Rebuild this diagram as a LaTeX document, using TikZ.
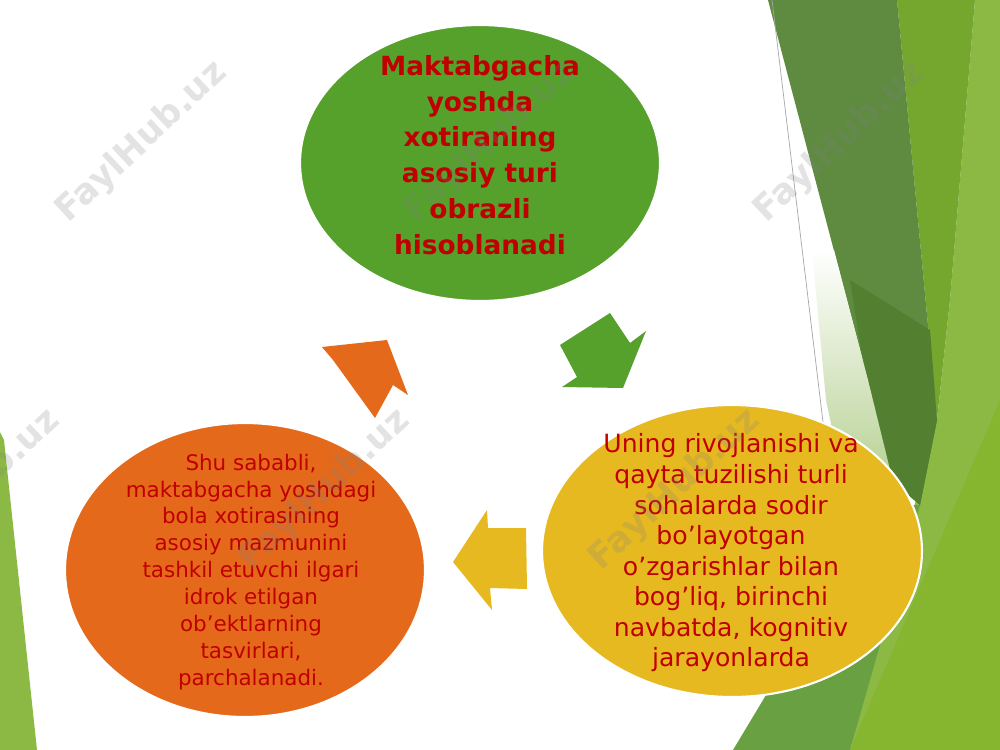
\documentclass[tikz,border=0pt]{standalone}
\usepackage{fontspec}
\setmainfont{DejaVu Sans}
\usetikzlibrary{shapes.geometric, positioning}
\definecolor{leaf}{HTML}{56A12B}
\definecolor{amber}{HTML}{E6B920}
\definecolor{rust}{HTML}{E4691B}
\definecolor{wine}{HTML}{C00000}
\definecolor{forest}{HTML}{5E8B40}
\definecolor{deepforest}{HTML}{527F30}
\definecolor{olive}{HTML}{75A72E}
\definecolor{lime}{HTML}{8CB944}
\definecolor{brightlime}{HTML}{86B62F}
\definecolor{pale}{HTML}{B5D090}
\definecolor{moss}{HTML}{69A142}
\tikzset{
	x=0.02cm, y=-0.02cm, % one unit is one pixel of the slide, y runs downwards
	bubble/.style={ellipse, draw=white, line width=1.2pt, inner sep=0pt}, % the three coloured ovals
	note/.style={text=wine, align=center, inner sep=0pt}, % the text inside an oval
	watermark/.style={text=gray, opacity=0.22, font=\bfseries\fontsize{20}{20}\selectfont, rotate=43}, % faint site name
}

\begin{document}
\begin{tikzpicture}
	\useasboundingbox (0,0) rectangle (1000,750);
	\fill[white] (0,0) rectangle (1000,750);
	% green background on the right and the left
	\fill[lime] (975,0) -- (1000,0) -- (1000,750) -- (850,750) -- (937,420) -- (950,300) -- cycle;
	\fill[brightlime] (1000,400) -- (1000,750) -- (850,750) -- cycle;
	\fill[olive] (897,0) -- (975,0) -- (950,300) -- (937,420) -- cycle;
	\fill[moss] (733,750) -- (880,505) -- (920,505) -- (850,750) -- cycle;
	\fill[forest] (768,0) -- (897,0) -- (937,420) -- (920,505) -- (890,480) -- (868,380) -- cycle;
	\fill[deepforest] (850,280) -- (930,330) -- (937,420) -- (920,505) -- (880,470) -- cycle;
	\shade[top color=white, bottom color=pale] (812,250) -- (834,250) -- (868,380) -- (895,490) -- (845,490) -- (826,400) -- cycle;
	\draw[gray!70, line width=0.4pt] (772,0) -- (826,447);
	\fill[lime] (0,432) -- (4,440) -- (37,750) -- (0,750) -- cycle;

	% the three ovals
	\node[bubble, fill=leaf, minimum width=7.2cm, minimum height=5.52cm] (memory) at (480,163) {};
	\node[bubble, fill=amber, minimum width=7.6cm, minimum height=5.84cm] (growth) at (732,551) {};
	\node[bubble, fill=rust, minimum width=7.2cm, minimum height=5.88cm] (images) at (245,570) {};

	% the arrows between them
	\fill[leaf] (560,345) -- (610,313) -- (630,343) -- (646,331) -- (623,388) -- (562,387) -- (577,377) -- cycle;
	\fill[amber] (487,510) -- (488,528) -- (526,528) -- (527,589) -- (490,588) -- (492,610) -- (453,562) -- cycle;
	\fill[rust] (322,347) -- (387,340) -- (408,395) -- (393,385) -- (375,418) -- (333,360) -- cycle;

	\node[note, font=\bfseries\fontsize{15}{20.4}\selectfont] (memorytext) at (480,155) {Maktabgacha\\yoshda\\xotiraning\\asosiy turi\\obrazli\\hisoblanadi};
	\node[note, font=\fontsize{14.3}{17.4}\selectfont] (growthtext) at (731,553) {Uning rivojlanishi va\\qayta tuzilishi turli\\sohalarda sodir\\bo'layotgan\\o'zgarishlar bilan\\bog'liq, birinchi\\navbatda, kognitiv\\jarayonlarda};
	\node[note, font=\fontsize{12.2}{15.35}\selectfont] (imagestext) at (251,572) {Shu sababli,\\maktabgacha yoshdagi\\bola xotirasining\\asosiy mazmunini\\tashkil etuvchi ilgari\\idrok etilgan\\ob'ektlarning\\tasvirlari,\\parchalanadi.};

	% watermarks
	\node[watermark] (wm1) at (142,142) {FaylHub.uz};
	\node[watermark] (wm2) at (490,142) {FaylHub.uz};
	\node[watermark] (wm3) at (840,142) {FaylHub.uz};
	\node[watermark] (wm4) at (-25,490) {FaylHub.uz};
	\node[watermark] (wm5) at (325,490) {FaylHub.uz};
	\node[watermark] (wm6) at (675,490) {FaylHub.uz};
\end{tikzpicture}
\end{document}
